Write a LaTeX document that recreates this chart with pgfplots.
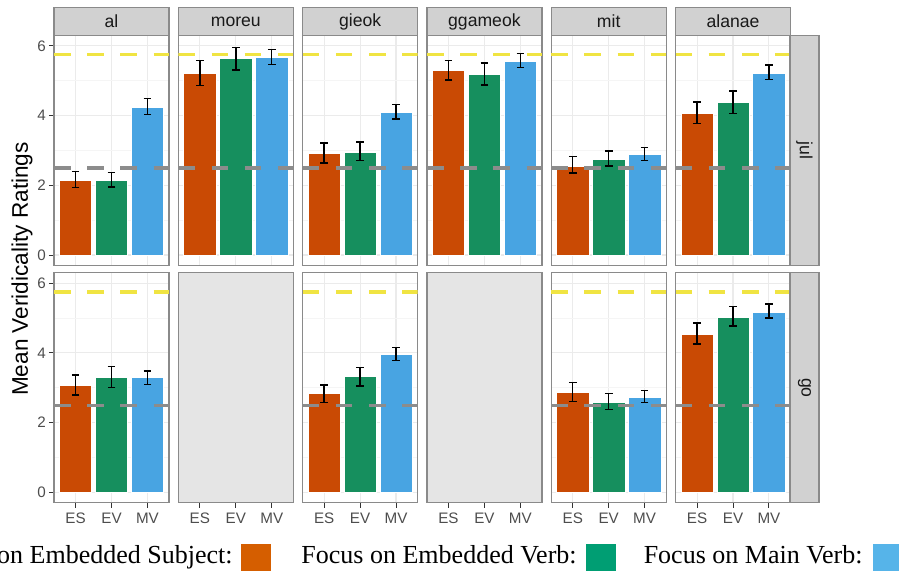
\documentclass[border=0pt]{standalone}
\usepackage{pgfplots}
\pgfplotsset{compat=1.18}
\usepackage{fontspec}
\setmainfont{Liberation Sans}
\newfontfamily\legfont{Liberation Serif}
\definecolor{cES}{HTML}{C94A04}
\definecolor{cEV}{HTML}{168F5E}
\definecolor{cMV}{HTML}{48A4E2}
\definecolor{lES}{HTML}{D55E00}
\definecolor{lEV}{HTML}{009E73}
\definecolor{lMV}{HTML}{56B4E9}
\definecolor{hlY}{HTML}{F0E442}
\definecolor{hlG}{HTML}{8C8C8C}
\definecolor{bordc}{HTML}{8A8A8A}
\definecolor{stripbg}{HTML}{D1D1D1}
\definecolor{ticklab}{HTML}{4D4D4D}

\pgfplotsset{
 panel/.style={
   scale only axis, width=57.5pt, height=115pt, anchor=south west,
   xmin=0.4,xmax=3.6,ymin=-0.3,ymax=6.3,
   xtick={1,2,3}, ytick={0,2,4,6}, minor ytick={1,3,5},
   grid=both,
   major grid style={color=black!8, line width=0.55pt},
   minor grid style={color=black!4, line width=0.3pt},
   axis line style={draw=bordc, line width=0.65pt},
   tick pos=left, tick align=outside, major tick length=2.5pt, minor tick length=0pt,
   minor tick style={draw=none},
   ticklabel style={font=\fontsize{7.6}{8.5}\selectfont, text=ticklab},
   yticklabel style={xshift=2pt},
   xticklabel style={yshift=0.8pt},
   xticklabels={}, yticklabels={},
   xtick style={draw=none}, ytick style={draw=none},
 },
 ylab/.style={yticklabels={0,2,4,6}, ytick style={draw=black!80, line width=0.5pt}},
 xlab/.style={xticklabels={ES,EV,MV}, xtick style={draw=black!80, line width=0.5pt}},
 empty/.style={grid=none, axis background/.style={fill=black!10}},
 barsty/.style={ybar, bar width=0.9, bar shift=0pt, fill=#1, draw=white, line width=0.3pt,
   error bars/.cd, y dir=both, y explicit,
   error bar style={black, line width=0.7pt, solid},
   error mark options={rotate=90, mark size=1.9pt, black, line width=0.7pt}},
}
\newcommand{\hlines}{%
  \addplot[hlG, line width=1.6pt, dash pattern=on 8.3pt off 8.3pt, forget plot] coordinates {(0.4,2.5) (3.6,2.5)};
  \addplot[hlY, line width=1.6pt, dash pattern=on 8.3pt off 8.3pt, forget plot] coordinates {(0.4,5.75) (3.6,5.75)};
}

\begin{document}
\begin{tikzpicture}
% ===== Row 1: jul =====
% al
\begin{axis}[panel, ylab, at={(27pt,152.75pt)}]
\addplot[barsty=cES] coordinates {(1,2.15) += (0,0.24) -= (0,0.21)};
\addplot[barsty=cEV] coordinates {(2,2.15) += (0,0.22) -= (0,0.20)};
\addplot[barsty=cMV] coordinates {(3,4.24) += (0,0.26) -= (0,0.20)};
\hlines
\end{axis}
% moreu
\begin{axis}[panel, at={(89.15pt,152.75pt)}]
\addplot[barsty=cES] coordinates {(1,5.22) += (0,0.36) -= (0,0.36)};
\addplot[barsty=cEV] coordinates {(2,5.64) += (0,0.32) -= (0,0.33)};
\addplot[barsty=cMV] coordinates {(3,5.66) += (0,0.23) -= (0,0.20)};
\hlines
\end{axis}
% gieok
\begin{axis}[panel, at={(151.3pt,152.75pt)}]
\addplot[barsty=cES] coordinates {(1,2.92) += (0,0.30) -= (0,0.28)};
\addplot[barsty=cEV] coordinates {(2,2.96) += (0,0.28) -= (0,0.25)};
\addplot[barsty=cMV] coordinates {(3,4.11) += (0,0.21) -= (0,0.21)};
\hlines
\end{axis}
% ggameok
\begin{axis}[panel, at={(213.45pt,152.75pt)}]
\addplot[barsty=cES] coordinates {(1,5.29) += (0,0.29) -= (0,0.27)};
\addplot[barsty=cEV] coordinates {(2,5.19) += (0,0.32) -= (0,0.31)};
\addplot[barsty=cMV] coordinates {(3,5.57) += (0,0.22) -= (0,0.18)};
\hlines
\end{axis}
% mit
\begin{axis}[panel, at={(275.6pt,152.75pt)}]
\addplot[barsty=cES] coordinates {(1,2.56) += (0,0.26) -= (0,0.21)};
\addplot[barsty=cEV] coordinates {(2,2.75) += (0,0.23) -= (0,0.20)};
\addplot[barsty=cMV] coordinates {(3,2.88) += (0,0.20) -= (0,0.17)};
\hlines
\end{axis}
% alanae
\begin{axis}[panel, at={(337.75pt,152.75pt)}]
\addplot[barsty=cES] coordinates {(1,4.07) += (0,0.32) -= (0,0.30)};
\addplot[barsty=cEV] coordinates {(2,4.38) += (0,0.33) -= (0,0.32)};
\addplot[barsty=cMV] coordinates {(3,5.22) += (0,0.23) -= (0,0.18)};
\hlines
\end{axis}
% ===== Row 2: go =====
% al
\begin{axis}[panel, ylab, xlab, at={(27pt,34.1pt)}]
\addplot[barsty=cES] coordinates {(1,3.08) += (0,0.29) -= (0,0.29)};
\addplot[barsty=cEV] coordinates {(2,3.29) += (0,0.32) -= (0,0.29)};
\addplot[barsty=cMV] coordinates {(3,3.29) += (0,0.19) -= (0,0.19)};
\hlines
\end{axis}
% moreu (empty)
\begin{axis}[panel, xlab, empty, at={(89.15pt,34.1pt)}]
\end{axis}
% gieok
\begin{axis}[panel, xlab, at={(151.3pt,34.1pt)}]
\addplot[barsty=cES] coordinates {(1,2.84) += (0,0.24) -= (0,0.26)};
\addplot[barsty=cEV] coordinates {(2,3.32) += (0,0.27) -= (0,0.27)};
\addplot[barsty=cMV] coordinates {(3,3.95) += (0,0.20) -= (0,0.17)};
\hlines
\end{axis}
% ggameok (empty)
\begin{axis}[panel, xlab, empty, at={(213.45pt,34.1pt)}]
\end{axis}
% mit
\begin{axis}[panel, xlab, at={(275.6pt,34.1pt)}]
\addplot[barsty=cES] coordinates {(1,2.87) += (0,0.29) -= (0,0.27)};
\addplot[barsty=cEV] coordinates {(2,2.59) += (0,0.25) -= (0,0.22)};
\addplot[barsty=cMV] coordinates {(3,2.73) += (0,0.19) -= (0,0.15)};
\hlines
\end{axis}
% alanae
\begin{axis}[panel, xlab, at={(337.75pt,34.1pt)}]
\addplot[barsty=cES] coordinates {(1,4.54) += (0,0.32) -= (0,0.28)};
\addplot[barsty=cEV] coordinates {(2,5.02) += (0,0.31) -= (0,0.25)};
\addplot[barsty=cMV] coordinates {(3,5.17) += (0,0.23) -= (0,0.17)};
\hlines
\end{axis}

% ===== strips =====
\foreach \xl/\lab in {27/al, 89.15/moreu, 151.3/gieok, 213.45/ggameok, 275.6/mit, 337.75/alanae}{
  \draw[fill=stripbg, draw=bordc, line width=0.65pt] (\xl pt,267.75pt) rectangle ++(57.5pt,14pt);
  \node[font=\fontsize{8.8}{10}\selectfont, text=black!90] at ([xshift=28.75pt]\xl pt,274.75pt) {\lab};
}
\draw[fill=stripbg, draw=bordc, line width=0.65pt] (395pt,152.75pt) rectangle (409.5pt,267.75pt);
\node[rotate=-90, font=\fontsize{8.8}{10}\selectfont, text=black!90] at (402.25pt,210.25pt) {jul};
\draw[fill=stripbg, draw=bordc, line width=0.65pt] (395pt,34.1pt) rectangle (409.5pt,149.1pt);
\node[rotate=-90, font=\fontsize{8.8}{10}\selectfont, text=black!90] at (402.25pt,91.6pt) {go};

% y label
\node[rotate=90, font=\fontsize{11.3}{13}\selectfont] at (11pt,151pt) {Mean Veridicality Ratings};

% legend (the reference is cropped at the left edge)
\node[anchor=base east, inner sep=0pt, font=\legfont\fontsize{13}{15}\selectfont] at (116.5pt,3.5pt) {on Embedded Subject:};
\fill[lES] (120.5pt,-1.5pt) rectangle (135.5pt,13.5pt);
\node[anchor=base east, inner sep=0pt, font=\legfont\fontsize{13}{15}\selectfont] at (288.5pt,3.5pt) {Focus on Embedded Verb:};
\fill[lEV] (293pt,-1.5pt) rectangle (308pt,13.5pt);
\node[anchor=base east, inner sep=0pt, font=\legfont\fontsize{13}{15}\selectfont] at (431.5pt,3.5pt) {Focus on Main Verb:};
\fill[lMV] (436.5pt,-1.5pt) rectangle (451.5pt,13.5pt);

\pgfresetboundingbox
\path[use as bounding box] (0pt,0pt) rectangle (449.5pt,285.5pt);
\end{tikzpicture}
\end{document}
